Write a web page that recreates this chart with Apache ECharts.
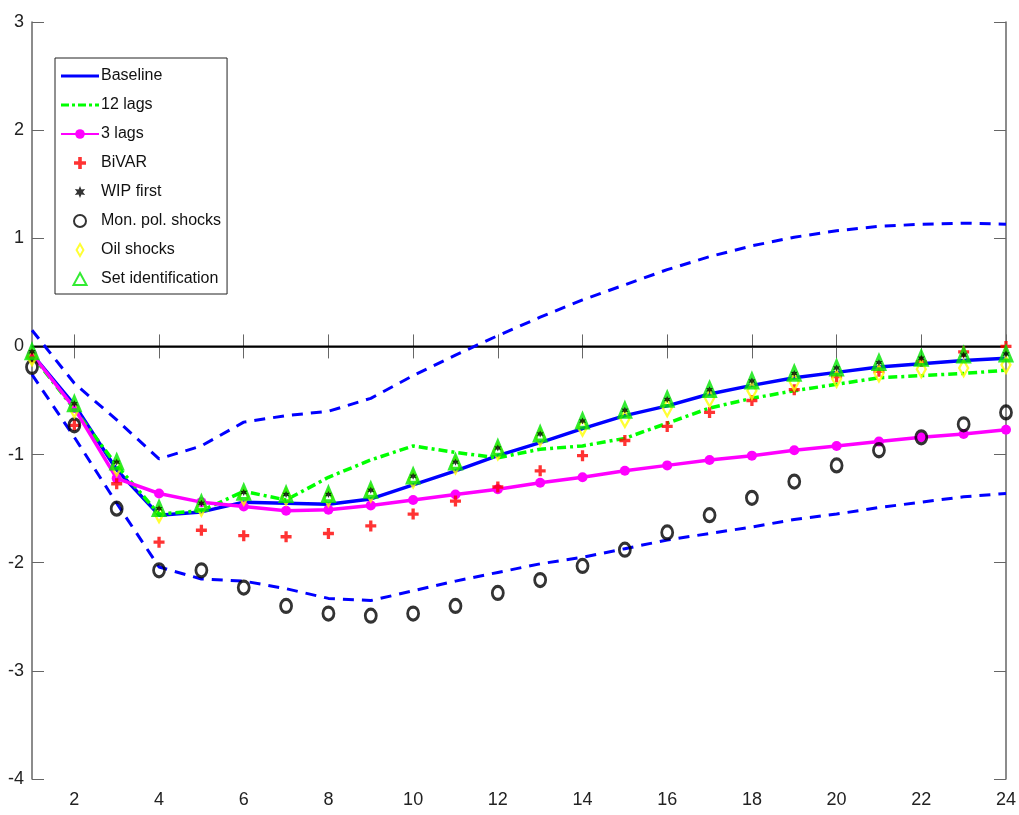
<!DOCTYPE html>
<html><head><meta charset="utf-8">
<script src="https://cdn.jsdelivr.net/npm/echarts@6/dist/echarts.min.js"></script>
<style>html,body{margin:0;padding:0;background:#fff}#c{width:1019px;height:815px}</style>
</head><body><div id="c"></div>
<script>
const horizons = [1,2,3,4,5,6,7,8,9,10,11,12,13,14,15,16,17,18,19,20,21,22,23,24];
const xTicks = [2,4,6,8,10,12,14,16,18,20,22,24];
const yTicks = [-4,-3,-2,-1,0,1,2,3];
const baseline = [-0.07,-0.54,-1.14,-1.56,-1.53,-1.44,-1.45,-1.46,-1.41,-1.28,-1.15,-1.01,-0.89,-0.76,-0.64,-0.55,-0.44,-0.36,-0.29,-0.24,-0.19,-0.16,-0.13,-0.11];
const lags12 = [-0.08,-0.58,-1.10,-1.55,-1.52,-1.34,-1.42,-1.21,-1.05,-0.92,-0.98,-1.03,-0.95,-0.92,-0.85,-0.71,-0.57,-0.48,-0.41,-0.35,-0.29,-0.27,-0.25,-0.22];
const lags3 = [-0.07,-0.57,-1.22,-1.36,-1.44,-1.48,-1.52,-1.51,-1.47,-1.42,-1.37,-1.32,-1.26,-1.21,-1.15,-1.10,-1.05,-1.01,-0.96,-0.92,-0.88,-0.84,-0.81,-0.77];
const bivar = [-0.10,-0.73,-1.27,-1.81,-1.70,-1.75,-1.76,-1.73,-1.66,-1.55,-1.43,-1.30,-1.15,-1.01,-0.87,-0.74,-0.61,-0.50,-0.40,-0.28,-0.23,-0.14,-0.05,0.00];
const wipFirst = [-0.05,-0.53,-1.07,-1.50,-1.45,-1.35,-1.37,-1.37,-1.33,-1.20,-1.07,-0.94,-0.81,-0.69,-0.59,-0.49,-0.40,-0.32,-0.25,-0.20,-0.15,-0.11,-0.08,-0.07];
const monPol = [-0.19,-0.73,-1.50,-2.07,-2.07,-2.23,-2.40,-2.47,-2.49,-2.47,-2.40,-2.28,-2.16,-2.03,-1.88,-1.72,-1.56,-1.40,-1.25,-1.10,-0.96,-0.84,-0.72,-0.61];
const oilShocks = [-0.10,-0.58,-1.12,-1.55,-1.49,-1.39,-1.39,-1.40,-1.36,-1.23,-1.10,-0.97,-0.84,-0.75,-0.67,-0.57,-0.48,-0.41,-0.33,-0.30,-0.25,-0.21,-0.20,-0.17];
const setId = [-0.05,-0.53,-1.07,-1.50,-1.45,-1.35,-1.37,-1.37,-1.33,-1.20,-1.07,-0.94,-0.81,-0.69,-0.59,-0.49,-0.40,-0.32,-0.25,-0.20,-0.15,-0.11,-0.08,-0.07];
const upperBand = [0.15,-0.34,-0.68,-1.04,-0.92,-0.70,-0.64,-0.60,-0.48,-0.27,-0.08,0.10,0.27,0.43,0.57,0.71,0.83,0.93,1.01,1.07,1.11,1.13,1.14,1.13];
const lowerBand = [-0.26,-0.84,-1.45,-2.04,-2.15,-2.17,-2.24,-2.33,-2.35,-2.26,-2.17,-2.09,-2.01,-1.95,-1.87,-1.79,-1.73,-1.67,-1.60,-1.55,-1.49,-1.44,-1.39,-1.36];
const zeroLine = horizons.map(() => 0);

const pair = arr => horizons.map((h, i) => [h, arr[i]]);
const FONT = '"Liberation Sans Narrow", "Liberation Sans", Arial, sans-serif';
const axisCol = '#666666';
const plusPath = 'path://M3.5,0H6.5V3.5H10V6.5H6.5V10H3.5V6.5H0V3.5H3.5Z';
const hexPath = 'path://M5,0L6.2,2.9L9.3,2.5L7.4,5L9.3,7.5L6.2,7.1L5,10L3.8,7.1L0.7,7.5L2.6,5L0.7,2.5L3.8,2.9Z';
const solidIcon = 'path://M0,0H38V3H0Z';
const dashDotIcon = 'path://M0,0H8V3H0Z M11,0H14V3H11Z M17,0H25V3H17Z M28,0H31V3H28Z M34,0H38V3H34Z';

const chart = echarts.init(document.getElementById('c'), null, {renderer: 'canvas'});
chart.setOption({
  animation: false,
  backgroundColor: '#fff',
  grid: {left: 32, right: 12, top: 22, bottom: 36},
  xAxis: [{
    type: 'value', min: 1, max: 24, position: 'bottom',
    axisLine: {show: true, lineStyle: {color: axisCol, width: 1.5}},
    axisTick: {show: true, inside: true, length: 12, customValues: xTicks, lineStyle: {color: axisCol}},
    axisLabel: {customValues: xTicks, color: '#222', fontFamily: FONT, fontSize: 18, margin: 12},
    splitLine: {show: false}
  }, {
    type: 'value', min: 1, max: 24, position: 'top',
    axisLine: {show: true, lineStyle: {color: axisCol, width: 1.5}},
    axisTick: {show: true, inside: true, length: 12, customValues: xTicks, lineStyle: {color: axisCol}},
    axisLabel: {show: false}, splitLine: {show: false}
  }],
  yAxis: [{
    type: 'value', min: -4, max: 3, interval: 1, position: 'left',
    axisLine: {show: true, lineStyle: {color: axisCol, width: 1.5}},
    axisTick: {show: true, inside: true, length: 12, lineStyle: {color: axisCol}},
    axisLabel: {color: '#222', fontFamily: FONT, fontSize: 18, margin: 8, formatter: v => String(v)},
    splitLine: {show: false}
  }, {
    type: 'value', min: -4, max: 3, interval: 1, position: 'right',
    axisLine: {show: true, lineStyle: {color: axisCol, width: 1.5}},
    axisTick: {show: true, inside: true, length: 12, lineStyle: {color: axisCol}},
    axisLabel: {show: false}, splitLine: {show: false}
  }],
  legend: {
    orient: 'vertical', left: 55, top: 58,
    backgroundColor: '#fff', borderColor: '#222', borderWidth: 1,
    padding: [10, 6, 7, 5], itemGap: 13, itemWidth: 38, itemHeight: 12,
    textStyle: {fontFamily: FONT, fontSize: 16, color: '#111', padding: [0, 0, 0, -3]},
    data: [
      {name: 'Baseline', icon: solidIcon},
      {name: '12 lags', icon: dashDotIcon},
      {name: '3 lags'},
      {name: 'BiVAR'},
      {name: 'WIP first'},
      {name: 'Mon. pol. shocks'},
      {name: 'Oil shocks', icon: 'path://M4,0L8,7L4,14L0,7Z'},
      {name: 'Set identification', icon: 'path://M6,0L12,11H0Z'}
    ]
  },
  series: [
    {name: 'zero', type: 'line', data: pair(zeroLine), symbol: 'none', silent: true,
     lineStyle: {color: '#000', width: 2}, z: 1},
    {name: 'upper', type: 'line', data: pair(upperBand), symbol: 'none',
     lineStyle: {color: '#0000ff', width: 3, type: [11, 8]}, z: 2},
    {name: 'lower', type: 'line', data: pair(lowerBand), symbol: 'none',
     lineStyle: {color: '#0000ff', width: 3, type: [11, 8]}, z: 2},
    {name: 'Baseline', type: 'line', data: pair(baseline), symbol: 'none',
     itemStyle: {color: '#0000ff'}, lineStyle: {color: '#0000ff', width: 3.5}, z: 3},
    {name: '12 lags', type: 'line', data: pair(lags12), symbol: 'none',
     itemStyle: {color: '#00ff00'}, lineStyle: {color: '#00ff00', width: 3.5, type: [9, 4, 3, 4]}, z: 3},
    {name: '3 lags', type: 'line', data: pair(lags3), symbol: 'circle', symbolSize: 10,
     itemStyle: {color: '#ff00ff'}, lineStyle: {color: '#ff00ff', width: 3.5}, z: 4},
    {name: 'BiVAR', type: 'scatter', data: pair(bivar), symbol: plusPath, symbolSize: 11,
     itemStyle: {color: '#ff0000'}, z: 5},
    {name: 'Mon. pol. shocks', type: 'scatter', data: pair(monPol), symbol: 'circle', symbolSize: [11, 13],
     itemStyle: {color: 'rgba(0,0,0,0)', borderColor: '#000', borderWidth: 3}, z: 5},
    {name: 'Oil shocks', type: 'scatter', data: pair(oilShocks), symbol: 'diamond', symbolSize: [9, 16],
     itemStyle: {color: 'rgba(0,0,0,0)', borderColor: '#ffff00', borderWidth: 2.5}, z: 6},
    {name: 'Set identification', type: 'scatter', data: pair(setId), symbol: 'triangle', symbolSize: [11, 13],
     itemStyle: {color: 'rgba(0,0,0,0)', borderColor: '#00e600', borderWidth: 3.5}, z: 7},
    {name: 'WIP first', type: 'scatter', data: pair(wipFirst), symbol: hexPath, symbolSize: 7,
     itemStyle: {color: '#000'}, z: 8}
  ]
});
</script></body></html>
